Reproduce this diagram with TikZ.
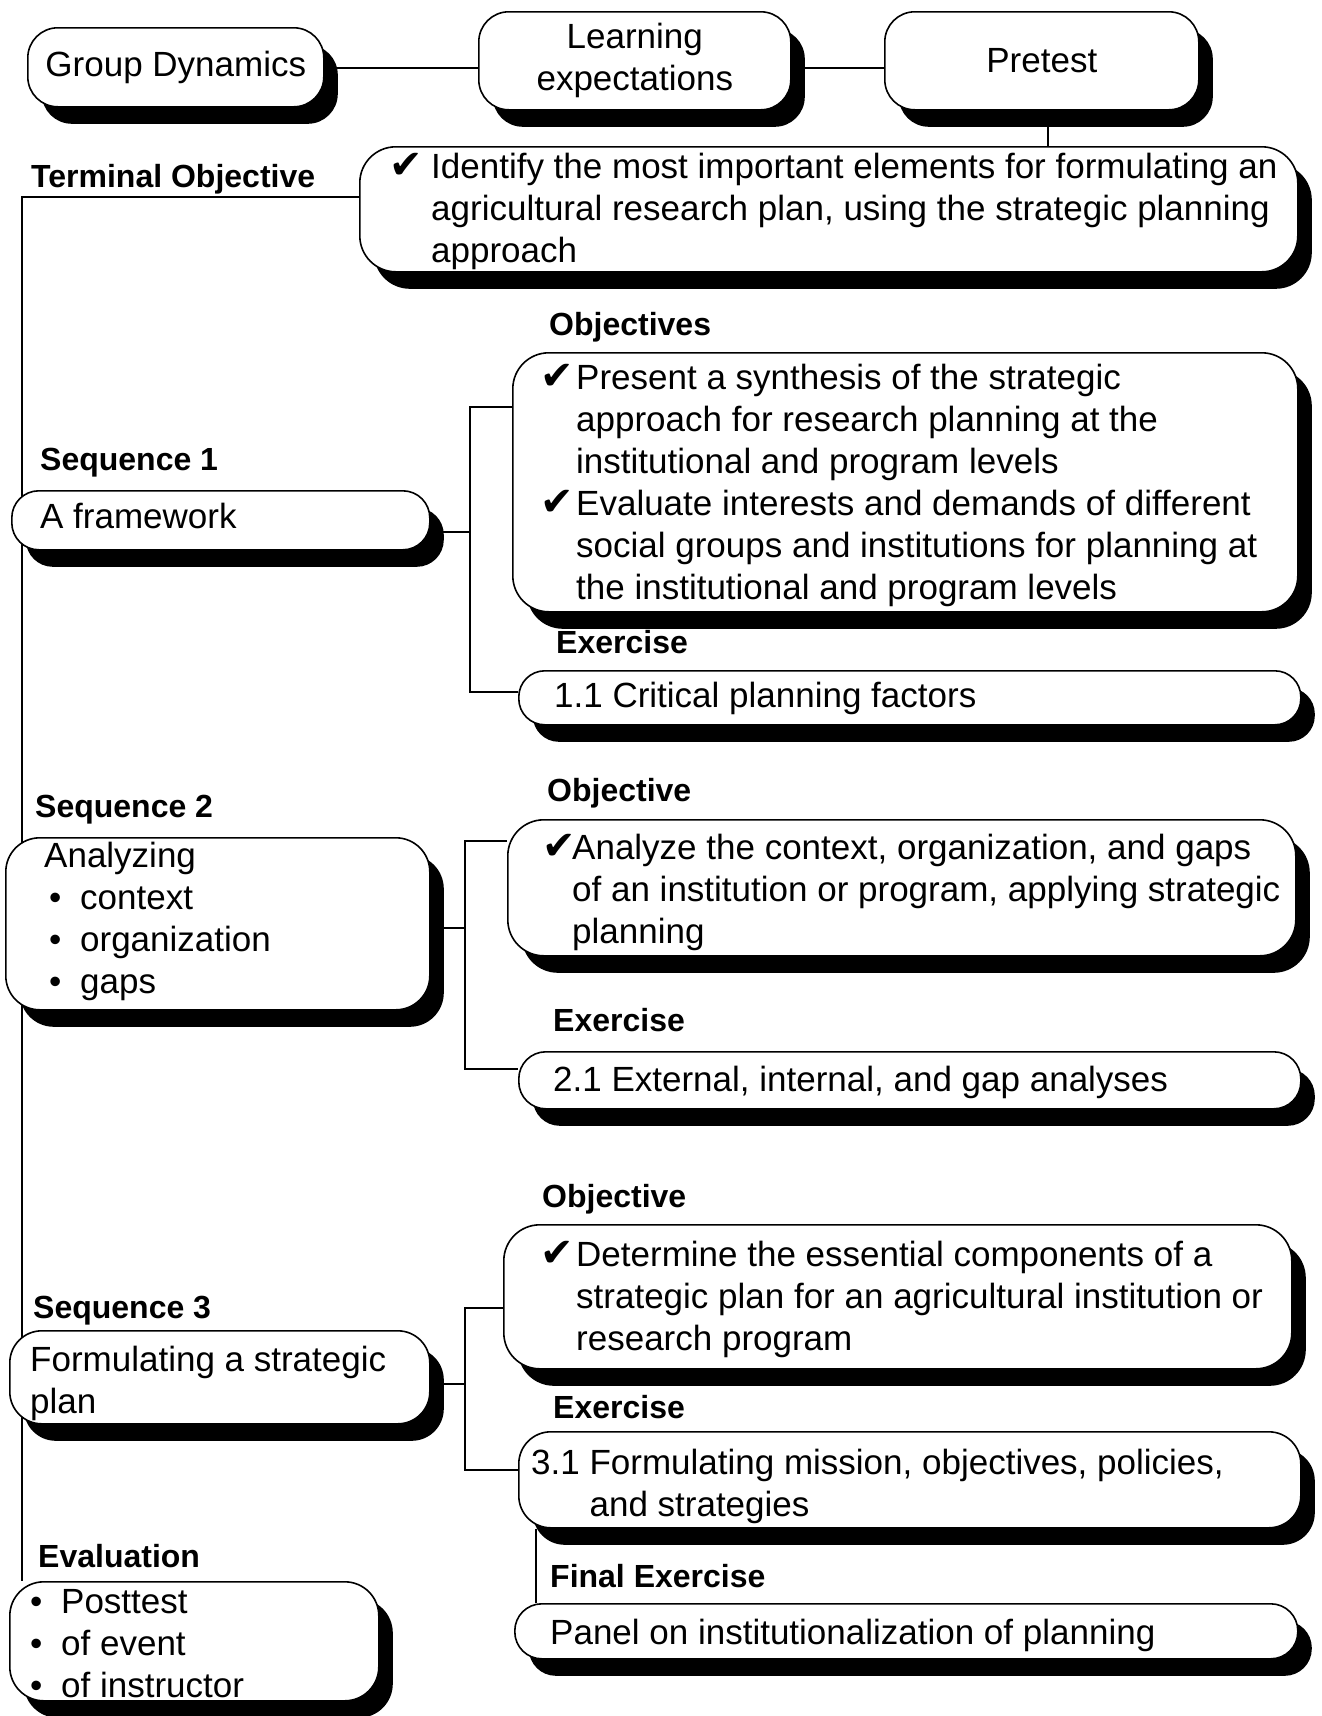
\documentclass[tikz,border=0pt]{standalone}
\usepackage{fontspec}
\setmainfont{Liberation Sans}
\newfontfamily\dingfont{DejaVu Sans}
\usetikzlibrary{shadows}
\pgfdeclarelayer{background}
\pgfsetlayers{background,main}

\newcommand\regtext{\fontsize{35pt}{42pt}\selectfont}
\newcommand\headtext{\fontsize{32pt}{38pt}\selectfont\bfseries}
\newcommand\tick[1]{\llap{\makebox[#1][l]{\dingfont\fontsize{40pt}{40pt}\selectfont\char"2714}}}
\newcommand\bul{\makebox[31pt][l]{\char"2022}}

\tikzset{
  panel/.style={draw, line width=1.6pt, fill=white, rounded corners=#1, inner sep=0pt,
    anchor=north west,
    drop shadow={shadow xshift=14pt, shadow yshift=-17pt, fill=black, opacity=1}},
  panel/.default=34pt,
  % multi-line texts are placed by the baseline of their last line
  body/.style={font=\regtext, align=left, anchor=base west, inner sep=0pt},
  head/.style={font=\headtext, anchor=base west, inner sep=0pt},
  link/.style={line width=1.5pt},
}

\begin{document}
\begin{tikzpicture}[x=1pt, y=-1pt]
\useasboundingbox (0,0) rectangle (1322,1716);

% ---- opening row
\node[panel=30pt, minimum width=296pt, minimum height=79pt, font=\regtext, align=center] (gd) at (27,27) {Group Dynamics};
\node[panel=30pt, minimum width=312pt, minimum height=98pt, font=\regtext, align=center] (le) at (478,11) {Learning\\expectations};
\node[panel=30pt, minimum width=314pt, minimum height=98pt, font=\regtext, align=center] (pre) at (884,11) {Pretest};

% ---- terminal objective
\node[head] (tolab) at (31,187) {Terminal Objective};
\node[panel=36pt, minimum width=938pt, minimum height=125pt] (to) at (359,146) {};
\node[body] (totxt) at (431,262) {\tick{42pt}Identify the most important elements for formulating an\\
agricultural research plan, using the strategic planning\\
approach};

% ---- sequence 1
\node[head] (s1lab) at (40,470) {Sequence 1};
\node[panel=27pt, minimum width=418pt, minimum height=59pt] (fw) at (11,490) {};
\node[body] (fwtxt) at (40,528) {A framework};

\node[head] (o1lab) at (549,335) {Objectives};
\node[panel=36pt, minimum width=785pt, minimum height=259pt] (obj1) at (512,352) {};
\node[body] (obj1txt) at (576,599) {\tick{36pt}Present a synthesis of the strategic\\
approach for research planning at the\\
institutional and program levels\\
\tick{36pt}Evaluate interests and demands of different\\
social groups and institutions for planning at\\
the institutional and program levels};

\node[head] (e1lab) at (556,653) {Exercise};
\node[panel=26pt, minimum width=782pt, minimum height=54pt] (ex1) at (518,670) {};
\node[body] (ex1txt) at (554,707) {1.1 Critical planning factors};

% ---- sequence 2
\node[head] (s2lab) at (35,817) {Sequence 2};
\node[panel=34pt, minimum width=424pt, minimum height=172pt] (ana) at (5,837) {};
\node[body] (anatxt) at (44,993) {Analyzing\\
\hspace*{5pt}\bul context\\
\hspace*{5pt}\bul organization\\
\hspace*{5pt}\bul gaps};

\node[head] (o2lab) at (547,801) {Objective};
\node[panel=36pt, minimum width=788pt, minimum height=136pt] (obj2) at (507,819) {};
\node[body] (obj2txt) at (572,943) {\tick{30pt}Analyze the context, organization, and gaps\\
of an institution or program, applying strategic\\
planning};

\node[head] (e2lab) at (553,1031) {Exercise};
\node[panel=27pt, minimum width=782pt, minimum height=57pt] (ex2) at (518,1051) {};
\node[body] (ex2txt) at (553,1091) {2.1 External, internal, and gap analyses};

% ---- sequence 3
\node[head] (s3lab) at (33,1318) {Sequence 3};
\node[panel=32pt, minimum width=420pt, minimum height=93pt] (form) at (9,1330) {};
\node[body] (formtxt) at (30,1413) {Formulating a strategic\\plan};

\node[head] (o3lab) at (542,1207) {Objective};
\node[panel=36pt, minimum width=788pt, minimum height=144pt] (obj3) at (503,1224) {};
\node[body] (obj3txt) at (576,1350) {\tick{36pt}Determine the essential components of a\\
strategic plan for an agricultural institution or\\
research program};

\node[head] (e3lab) at (553,1418) {Exercise};
\node[panel=32pt, minimum width=782pt, minimum height=96pt] (ex3) at (518,1431) {};
\node[body] (ex3txt) at (531,1516) {3.1 Formulating mission, objectives, policies,\\
\phantom{3.1\ }and strategies};

\node[head] (fexlab) at (550,1587) {Final Exercise};
\node[panel=27pt, minimum width=783pt, minimum height=55pt] (panel) at (514,1603) {};
\node[body] (paneltxt) at (550,1644) {Panel on institutionalization of planning};

% ---- evaluation
\node[head] (evlab) at (38,1567) {Evaluation};
\node[panel=34pt, minimum width=369pt, minimum height=119pt] (eval) at (9,1581) {};
\node[body] (evaltxt) at (30,1697) {\bul Posttest\\
\bul of event\\
\bul of instructor};

% ---- connectors
\coordinate (row) at (0,68);
\coordinate (spine) at (22,197);
\coordinate (b1top) at (470,407);
\coordinate (b1mid) at (470,532);
\coordinate (b1bot) at (470,692);
\coordinate (b2top) at (465,841);
\coordinate (b2mid) at (465,928);
\coordinate (b2bot) at (465,1069);
\coordinate (b3top) at (465,1308);
\coordinate (b3mid) at (465,1384);
\coordinate (b3bot) at (465,1470);
\coordinate (drop) at (536,0);

\begin{pgfonlayer}{background}
\fill[white] (0,0) rectangle (1322,1716);
\draw[link] (gd.east |- row) -- (le.west |- row);
\draw[link] (le.east |- row) -- (pre.west |- row);
\draw[link] ([xshift=6pt]pre.south) -- ([xshift=6pt]pre.south |- to.north);
\draw[link] (to.west |- spine) -- (spine) -- (spine |- eval.north);

\draw[link] (fw.east |- b1mid) -- (b1mid);
\draw[link] (obj1.west |- b1top) -- (b1top) -- (b1bot) -- (ex1.west |- b1bot);

\draw[link] (ana.east |- b2mid) -- (b2mid);
\draw[link] (obj2.west |- b2top) -- (b2top) -- (b2bot) -- (ex2.west |- b2bot);

\draw[link] (form.east |- b3mid) -- (b3mid);
\draw[link] (obj3.west |- b3top) -- (b3top) -- (b3bot) -- (ex3.west |- b3bot);

\draw[link] (ex3.south -| drop) -- (panel.north -| drop);
\end{pgfonlayer}
\end{tikzpicture}
\end{document}
